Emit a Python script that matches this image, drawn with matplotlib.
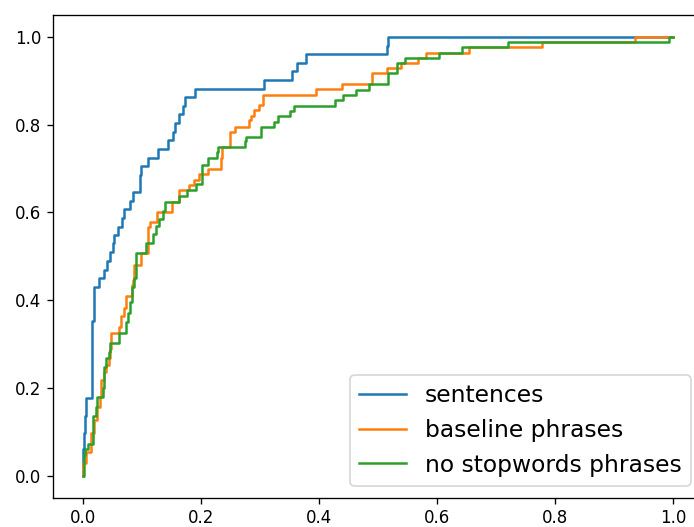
import matplotlib
matplotlib.use("Agg")
import matplotlib.pyplot as plt

# ROC points (fpr, tpr)
sent_fpr = [0.0, 0.0, 0.002, 0.005, 0.006, 0.016, 0.019, 0.020, 0.028, 0.037,
            0.042, 0.047, 0.051, 0.054, 0.060, 0.067, 0.070, 0.080, 0.086, 0.097,
            0.099, 0.111, 0.127, 0.145, 0.153, 0.156, 0.164, 0.170, 0.173, 0.190,
            0.307, 0.354, 0.364, 0.378, 0.515, 0.517, 1.0]
sent_tpr = [0.0, 0.06, 0.098, 0.137, 0.178, 0.353, 0.394, 0.431, 0.451, 0.47,
            0.49, 0.51, 0.53, 0.549, 0.567, 0.588, 0.608, 0.627, 0.647, 0.686,
            0.706, 0.725, 0.745, 0.765, 0.784, 0.804, 0.824, 0.843, 0.863, 0.882,
            0.902, 0.922, 0.941, 0.961, 0.98, 1.0, 1.0]

base_fpr = [0.0, 0.001, 0.006, 0.015, 0.020, 0.024, 0.029, 0.032, 0.036, 0.040,
            0.045, 0.046, 0.049, 0.062, 0.066, 0.071, 0.074, 0.083, 0.085, 0.088,
            0.099, 0.111, 0.115, 0.126, 0.152, 0.164, 0.180, 0.189, 0.197, 0.212,
            0.235, 0.237, 0.250, 0.259, 0.282, 0.286, 0.290, 0.299, 0.306, 0.396,
            0.439, 0.490, 0.515, 0.540, 0.568, 0.582, 0.655, 0.778, 0.936, 1.0]
base_tpr = [0.0, 0.03, 0.055, 0.098, 0.128, 0.157, 0.18, 0.219, 0.237, 0.253,
            0.268, 0.289, 0.326, 0.34, 0.363, 0.382, 0.41, 0.435, 0.446, 0.48,
            0.508, 0.567, 0.579, 0.602, 0.624, 0.651, 0.663, 0.674, 0.688, 0.699,
            0.724, 0.75, 0.784, 0.795, 0.81, 0.82, 0.834, 0.845, 0.868, 0.881,
            0.893, 0.918, 0.929, 0.941, 0.952, 0.963, 0.977, 0.989, 1.0, 1.0]

stop_fpr = [0.0, 0.002, 0.004, 0.009, 0.017, 0.023, 0.024, 0.034, 0.037, 0.040,
            0.045, 0.047, 0.062, 0.074, 0.077, 0.080, 0.084, 0.088, 0.091, 0.107,
            0.119, 0.125, 0.129, 0.136, 0.140, 0.163, 0.177, 0.192, 0.203, 0.212,
            0.227, 0.229, 0.275, 0.277, 0.303, 0.325, 0.331, 0.351, 0.359, 0.427,
            0.441, 0.464, 0.486, 0.517, 0.532, 0.546, 0.603, 0.642, 0.720, 0.993, 1.0]
stop_tpr = [0.0, 0.048, 0.06, 0.073, 0.135, 0.157, 0.18, 0.2, 0.248, 0.268,
            0.283, 0.303, 0.326, 0.351, 0.37, 0.396, 0.431, 0.451, 0.508, 0.531,
            0.55, 0.57, 0.585, 0.603, 0.624, 0.638, 0.651, 0.666, 0.708, 0.724,
            0.738, 0.749, 0.763, 0.772, 0.795, 0.807, 0.82, 0.832, 0.843, 0.856,
            0.868, 0.879, 0.893, 0.918, 0.941, 0.952, 0.963, 0.977, 0.989, 1.0, 1.0]

labels = ["sentences", "baseline phrases", "no stopwords phrases"]

fig = plt.figure(figsize=(694 / 120, 527 / 120), dpi=120)
# the right side of the axes runs past the picture edge, as in the reference
ax = fig.add_axes([53 / 694, 29.4 / 527, 649.5 / 694, 482.5 / 527])

ax.step(sent_fpr, sent_tpr, where="post", label=labels[0])
ax.step(base_fpr, base_tpr, where="post", label=labels[1])
ax.step(stop_fpr, stop_tpr, where="post", label=labels[2])

ax.set_xticks([0.0, 0.2, 0.4, 0.6, 0.8, 1.0])
ax.set_yticks([0.0, 0.2, 0.4, 0.6, 0.8, 1.0])
ax.legend(loc="lower right", fontsize=14)

fig.savefig("out.png", dpi=120)
